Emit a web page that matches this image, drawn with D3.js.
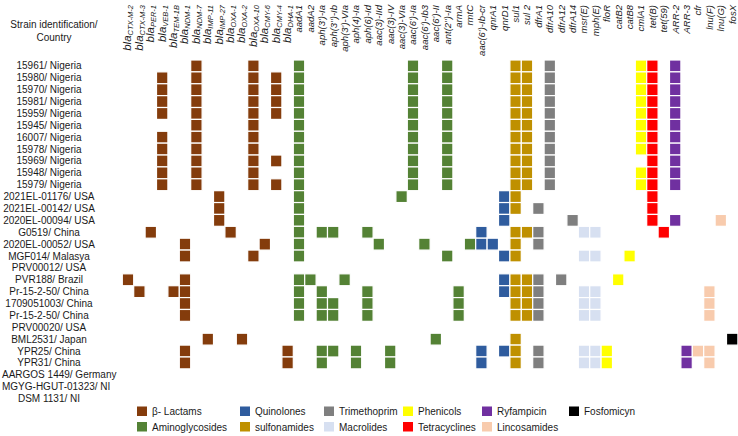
<!DOCTYPE html>
<html><head><meta charset="utf-8">
<script src="https://cdn.jsdelivr.net/npm/d3@7"></script>
<style>
body{margin:0;background:#fff;}
svg{display:block;font-family:"Liberation Sans",Arial,sans-serif;}
</style>
</head><body>
<svg id="chart" width="738" height="436"></svg>
<script>
// ---------------- DATA ----------------
const strains = [
  "15961/ Nigeria","15980/ Nigeria","15970/ Nigeria","15981/ Nigeria","15959/ Nigeria",
  "15945/ Nigeria","16007/ Nigeria","15978/ Nigeria","15969/ Nigeria","15948/ Nigeria",
  "15979/ Nigeria","2021EL-01176/ USA","2021EL-00142/ USA","2020EL-00094/ USA","G0519/ China",
  "2020EL-00052/ USA","MGF014/ Malasya","PRV00012/ USA","PVR188/ Brazil","Pr-15-2-50/ China",
  "1709051003/ China","Pr-15-2-50/ China","PRV00020/ USA","BML2531/ Japan","YPR25/ China",
  "YPR31/ China","AARGOS 1449/ Germany","MGYG-HGUT-01323/ NI","DSM 1131/ NI"
];

const genes = [
  "blaCTX-M-2","blaCTX-M-3","blaPER-1","blaVEB-1","blaTEM-1B","blaNDM-1","blaNDM-7","blaIMP-11",
  "blaIMP-27","blaOXA-1","blaOXA-2","blaOXA-10","blaCMY-6","blaCMY-4","blaDHA-1",
  "aadA1","aadA2","aph(3')-Ia","aph(3'')-Ib","aph(3')-VIa","aph(4)-Ia","aph(6)-Id","aac(3)-IId",
  "aac(3)-IV","aac(3)-VIa","aac(6')-Ia","aac(6')-Ib3","aac(6')-II","ant(2'')-Ia","armA","rmtC",
  "aac(6')-Ib-cr","qnrA1","qnrD1",
  "sul1","sul 2",
  "dfrA1","dfrA10","dfrA12","dfrA14",
  "msr(E)","mph(E)",
  "floR","catB2","catB8","cmlA1",
  "tet(B)","tet(59)",
  "ARR-2","ARR-3",
  "cfr","lnu(F)","lnu(G)",
  "fosX"
];

const classes = ["β- Lactams","Aminoglycosides","Quinolones","sulfonamides","Trimethoprim",
  "Macrolides","Phenicols","Tetracyclines","Ryfampicin","Lincosamides","Fosfomicyn"];
const classColors = ["#843C0C","#548235","#2F5C9E","#BF9000","#7F7F7F",
  "#D7E0F1","#FFFF00","#FF0000","#7030A0","#F8CBAD","#000000"];

// class of each gene (index into classes), same order as genes
const geneClass = [
  0,0,0,0,0,0,0,0,0,0,0,0,0,0,0,
  1,1,1,1,1,1,1,1,1,1,1,1,1,1,1,1,
  2,2,2,
  3,3,
  4,4,4,4,
  5,5,
  6,6,6,6,
  7,7,
  8,8,
  9,9,9,
  10
];

// genes detected in each strain (same order as strains)
const hits = [
  ["blaNDM-7","blaOXA-10","aadA1","aac(6')-Ia","ant(2'')-Ia","sul1","sul 2","dfrA10","cmlA1","tet(B)","ARR-2"],
  ["blaVEB-1","blaNDM-7","blaOXA-10","blaCMY-4","aadA1","aac(6')-Ia","ant(2'')-Ia","sul1","sul 2","dfrA10","cmlA1","tet(B)","ARR-2"],
  ["blaVEB-1","blaNDM-7","blaOXA-10","blaCMY-4","aadA1","aac(6')-Ia","ant(2'')-Ia","sul1","sul 2","dfrA10","cmlA1","tet(B)","ARR-2"],
  ["blaVEB-1","blaNDM-7","blaOXA-10","blaCMY-4","aadA1","aac(6')-Ia","ant(2'')-Ia","sul1","sul 2","dfrA10","cmlA1","tet(B)","ARR-2"],
  ["blaVEB-1","blaNDM-7","blaOXA-10","blaCMY-4","aadA1","aac(6')-Ia","ant(2'')-Ia","sul1","sul 2","dfrA10","cmlA1","tet(B)","ARR-2"],
  ["blaNDM-7","blaOXA-10","aadA1","aac(6')-Ia","ant(2'')-Ia","sul1","sul 2","dfrA10","cmlA1","tet(B)","ARR-2"],
  ["blaVEB-1","blaNDM-7","blaOXA-10","aadA1","aac(6')-Ia","ant(2'')-Ia","sul1","sul 2","dfrA10","cmlA1","tet(B)","ARR-2"],
  ["blaVEB-1","blaNDM-7","blaOXA-10","aadA1","aac(6')-Ia","ant(2'')-Ia","sul1","sul 2","dfrA10","cmlA1","tet(B)","ARR-2"],
  ["blaVEB-1","blaNDM-7","blaOXA-10","blaCMY-4","aadA1","aac(6')-Ia","ant(2'')-Ia","sul1","sul 2","dfrA10","tet(B)","ARR-2"],
  ["blaVEB-1","blaNDM-7","blaOXA-10","aadA1","aac(6')-Ia","ant(2'')-Ia","sul1","sul 2","dfrA10","cmlA1","tet(B)","ARR-2"],
  ["blaVEB-1","blaNDM-7","blaOXA-10","blaCMY-4","aadA1","aac(6')-Ia","ant(2'')-Ia","sul1","sul 2","dfrA10","cmlA1","tet(B)","ARR-2"],
  ["blaIMP-27","aadA1","aac(3)-VIa","qnrD1","sul1","tet(B)"],
  ["blaIMP-27","aadA1","qnrD1","sul1","dfrA1","tet(B)"],
  ["blaIMP-27","aadA1","qnrD1","dfrA14","tet(B)","ARR-2","lnu(G)"],
  ["blaPER-1","blaOXA-1","aadA1","aph(3')-Ia","aph(3'')-Ib","aph(6)-Id","aac(6')-Ib-cr","sul1","sul 2","dfrA1","msr(E)","mph(E)","tet(59)"],
  ["blaNDM-1","blaCMY-6","aadA1","aac(3)-IId","aac(6')-Ib3","rmtC","aac(6')-Ib-cr","qnrA1","sul1","dfrA1"],
  ["blaNDM-1","blaOXA-10","aadA1","ant(2'')-Ia","qnrD1","sul1","msr(E)","mph(E)","catB8"],
  [],
  ["blaCTX-M-2","blaNDM-1","aadA1","aadA2","aph(3')-VIa","qnrD1","sul1","sul 2","dfrA1","dfrA12","catB2"],
  ["blaCTX-M-3","blaTEM-1B","blaNDM-1","aadA1","aph(3')-Ia","aph(6)-Id","armA","qnrD1","sul1","sul 2","dfrA1","msr(E)","mph(E)","lnu(F)"],
  ["blaNDM-1","aadA1","aph(3')-Ia","aph(3'')-Ib","aph(6)-Id","armA","sul1","sul 2","dfrA1","msr(E)","mph(E)","lnu(F)"],
  ["blaNDM-1","aadA1","aph(3')-Ia","aph(3'')-Ib","aph(6)-Id","armA","sul1","sul 2","dfrA1","msr(E)","mph(E)","lnu(F)"],
  [],
  ["blaIMP-11","blaOXA-2","aac(6')-II","sul1","fosX"],
  ["blaNDM-1","blaDHA-1","aph(3')-Ia","aph(3'')-Ib","aph(4)-Ia","aac(3)-IV","aac(6')-Ib-cr","qnrD1","sul1","dfrA1","msr(E)","mph(E)","floR","ARR-3","cfr","lnu(F)"],
  ["blaNDM-1","blaDHA-1","aph(3')-Ia","aph(4)-Ia","aac(3)-IV","aac(6')-Ib-cr","sul1","dfrA1","msr(E)","mph(E)","floR","ARR-3","lnu(F)"],
  [],
  [],
  []
];

const titleLines = ["Strain identification/","Country"];

// ---------------- DRAW ----------------
const svg = d3.select("#chart");

const x = d3.scaleBand().domain(genes).range([122.3, 737.9]).padding(0);
const y = d3.scaleBand().domain(d3.range(strains.length)).range([60, 404.5]).padding(0);
const colorOf = g => classColors[geneClass[genes.indexOf(g)]];

// cells
const cells = [];
hits.forEach((list, i) => list.forEach(g => cells.push({row: i, gene: g})));
svg.append("g").selectAll("rect").data(cells).join("rect")
  .attr("x", d => x(d.gene))
  .attr("y", d => y(d.row))
  .attr("width", x.bandwidth())
  .attr("height", y.bandwidth())
  .attr("fill", d => colorOf(d.gene))
  .attr("stroke", "#fff")
  .attr("stroke-width", 1.2);

// row labels
const rowG = svg.append("g").attr("font-size", 10).attr("fill", "#1a1a1a");
rowG.selectAll("text").data(strains).join("text")
  .attr("y", (d, i) => y(i) + y.bandwidth() / 2 + 3.5)
  .attr("text-anchor", "middle")
  .text(d => d)
  .attr("x", function() {
    const w = this.getComputedTextLength();
    return Math.max(49, w / 2 + 2);
  });

// title
svg.append("g").attr("font-size", 10).attr("fill", "#1a1a1a")
  .selectAll("text").data(titleLines).join("text")
  .attr("x", 54).attr("y", (d, i) => 28 + i * 13)
  .attr("text-anchor", "middle").text(d => d);

// column headers (rotated)
const hdr = svg.append("g").attr("fill", "#1a1a1a").attr("font-style", "italic");
genes.forEach(g => {
  const cx = x(g) + x.bandwidth() / 2;
  const t = hdr.append("text")
    .attr("transform", `translate(${cx + 3.4},5) rotate(-90)`)
    .attr("text-anchor", "end")
    .attr("font-size", 9.5);
  if (g.startsWith("bla")) {
    t.append("tspan").text("bla").attr("font-size", 11.5);
    t.append("tspan").text(g.slice(3)).attr("font-size", 7.5).attr("dy", 2);
  } else {
    t.text(g);
  }
});

// legend
const legX = [137, 240, 324, 403, 482, 569];
const legY = [406.5, 422];
const leg = svg.append("g").attr("font-size", 10).attr("fill", "#1a1a1a");
const legItems = leg.selectAll("g").data(classes).join("g")
  .attr("transform", (d, i) => `translate(${legX[Math.floor(i / 2)]},${legY[i % 2]})`);
legItems.append("rect").attr("width", 10).attr("height", 9.5)
  .attr("fill", (d, i) => classColors[i]);
legItems.append("text").attr("x", 15).attr("y", 8.5).text(d => d);
</script>
</body></html>
